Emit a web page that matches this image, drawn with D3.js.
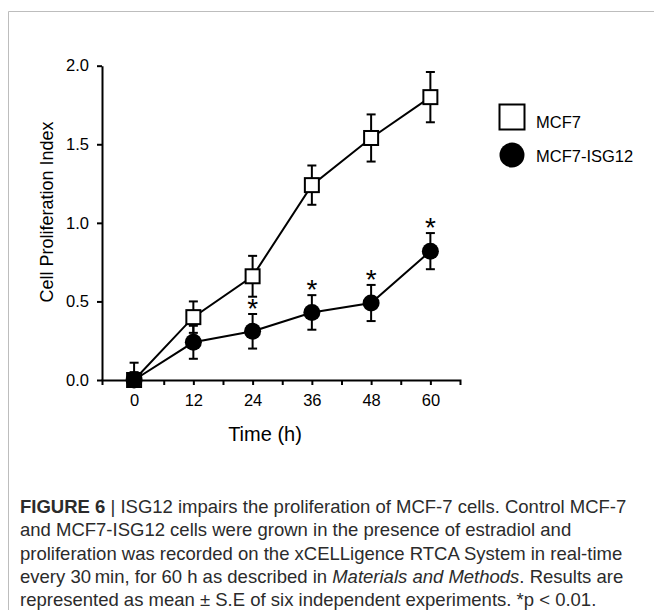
<!DOCTYPE html>
<html>
<head>
<meta charset="utf-8">
<script src="https://cdn.jsdelivr.net/npm/d3@7"></script>
<style>
    body { margin: 0; background: #fff; }
    svg { display: block; font-family: "Liberation Sans", Arial, sans-serif; }
</style>
</head>
<body>
<svg id="chart" width="654" height="610"></svg>
<script>
// Time points (h) and the two series
const times = [0, 12, 24, 36, 48, 60];
const mcf7 = [0, 0.40, 0.66, 1.24, 1.54, 1.80];
const mcf7Err = [0.11, 0.10, 0.13, 0.125, 0.15, 0.16];
const isg12 = [0, 0.24, 0.31, 0.43, 0.49, 0.82];
const isg12Err = [0.05, 0.105, 0.11, 0.11, 0.115, 0.115];
const significant = [false, false, true, true, true, true];

const yTicks = [0, 0.5, 1.0, 1.5, 2.0];
const xTicks = [0, 6, 12, 18, 24, 30, 36, 42, 48, 54, 60];
const legendLabels = ["MCF7", "MCF7-ISG12"];

const captionLines = [
    [{ t: "FIGURE 6", w: "bold" }, { t: " | ISG12 impairs the proliferation of MCF-7 cells. Control MCF-7" }],
    [{ t: "and MCF7-ISG12 cells were grown in the presence of estradiol and" }],
    [{ t: "proliferation was recorded on the xCELLigence RTCA System in real-time" }],
    [{ t: "every 30\u2009min, for 60 h as described in " }, { t: "Materials and Methods", s: "italic" }, { t: ". Results are" }],
    [{ t: "represented as mean \u00b1 S.E of six independent experiments. *p < 0.01." }]
];

const svg = d3.select("#chart");

// Figure frame (top and left border of the panel)
svg.append("path")
    .attr("d", "M8.5,610 V11.5 H654")
    .attr("fill", "none")
    .attr("stroke", "#bdbdbd")
    .attr("stroke-width", 1);

const x = d3.scaleLinear().domain([-6.5, 66]).range([102, 460]);
const y = d3.scaleLinear().domain([0, 2]).range([380, 65.7]);

// Axes
const xAxis = svg.append("g")
    .attr("transform", `translate(0, ${y(0)})`)
    .call(d3.axisBottom(x)
        .tickValues(xTicks)
        .tickFormat(d => d % 12 === 0 ? d : "")
        .tickSize(5)
        .tickSizeOuter(5)
        .tickPadding(9));

const yAxis = svg.append("g")
    .attr("transform", `translate(${x(-6.5)}, 0)`)
    .call(d3.axisLeft(y)
        .tickValues(yTicks)
        .tickFormat(d3.format(".1f"))
        .tickSize(5)
        .tickSizeOuter(0)
        .tickPadding(8));

[xAxis, yAxis].forEach(a => {
    a.selectAll("path, line").attr("stroke", "#000").attr("stroke-width", 2);
    a.selectAll("text").attr("font-size", 16.5).attr("fill", "#000")
        .attr("font-family", "Liberation Sans, Arial, sans-serif");
});

// Axis titles
svg.append("text")
    .attr("x", 265)
    .attr("y", 441)
    .attr("text-anchor", "middle")
    .attr("font-size", 20)
    .text("Time (h)");

svg.append("text")
    .attr("transform", "translate(53, 212) rotate(-90)")
    .attr("text-anchor", "middle")
    .attr("font-size", 18)
    .text("Cell Proliferation Index");

const seriesList = [
    { values: mcf7, err: mcf7Err },
    { values: isg12, err: isg12Err }
];

const line = d3.line()
    .x((d, i) => x(times[i]))
    .y(d => y(d));

// Connecting lines
seriesList.forEach(s => {
    svg.append("path")
        .datum(s.values)
        .attr("fill", "none")
        .attr("stroke", "#000")
        .attr("stroke-width", 2)
        .attr("d", line);
});

// Error bars (clipped at zero)
const capW = 4.5;
seriesList.forEach(s => {
    const g = svg.append("g").attr("stroke", "#000").attr("stroke-width", 2);
    s.values.forEach((v, i) => {
        const cx = x(times[i]);
        const top = y(v + s.err[i]);
        const bottom = y(Math.max(0, v - s.err[i]));
        g.append("line").attr("x1", cx).attr("x2", cx).attr("y1", top).attr("y2", bottom);
        g.append("line").attr("x1", cx - capW).attr("x2", cx + capW).attr("y1", top).attr("y2", top);
        if (v - s.err[i] > 0) {
            g.append("line").attr("x1", cx - capW).attr("x2", cx + capW).attr("y1", bottom).attr("y2", bottom);
        }
    });
});

// Markers
svg.append("g").selectAll("rect")
    .data(mcf7)
    .join("rect")
    .attr("x", (d, i) => x(times[i]) - 7)
    .attr("y", d => y(d) - 7)
    .attr("width", 14)
    .attr("height", 14)
    .attr("fill", "#fff")
    .attr("stroke", "#000")
    .attr("stroke-width", 2);

svg.append("g").selectAll("circle")
    .data(isg12)
    .join("circle")
    .attr("cx", (d, i) => x(times[i]))
    .attr("cy", d => y(d))
    .attr("r", 8.5)
    .attr("fill", "#000");

// Significance stars above the MCF7-ISG12 error bars
const starSize = 28;
svg.append("g").selectAll("text")
    .data(isg12.map((v, i) => ({ v, i })).filter(d => significant[d.i]))
    .join("text")
    .attr("x", d => x(times[d.i]))
    .attr("y", d => y(d.v + isg12Err[d.i]) - 12 + starSize * 0.573)
    .attr("text-anchor", "middle")
    .attr("font-size", starSize)
    .text("*");

// Legend
const legend = svg.append("g");
legend.append("rect")
    .attr("x", 499.5).attr("y", 104.5)
    .attr("width", 25).attr("height", 25)
    .attr("fill", "#fff").attr("stroke", "#000").attr("stroke-width", 2);
legend.append("circle")
    .attr("cx", 512).attr("cy", 155).attr("r", 12.5)
    .attr("fill", "#000");
legend.selectAll("text")
    .data(legendLabels)
    .join("text")
    .attr("x", 536)
    .attr("y", (d, i) => 127.5 + i * 34)
    .attr("font-size", 16.5)
    .text(d => d);

// Caption
const caption = svg.append("g").attr("fill", "#2b2b2b").attr("font-size", 18.5);
captionLines.forEach((parts, li) => {
    const t = caption.append("text")
        .attr("x", 20)
        .attr("y", 513 + li * 23.3);
    parts.forEach(p => {
        t.append("tspan")
            .attr("font-weight", p.w || null)
            .attr("font-style", p.s || null)
            .text(p.t);
    });
});
</script>
</body>
</html>
